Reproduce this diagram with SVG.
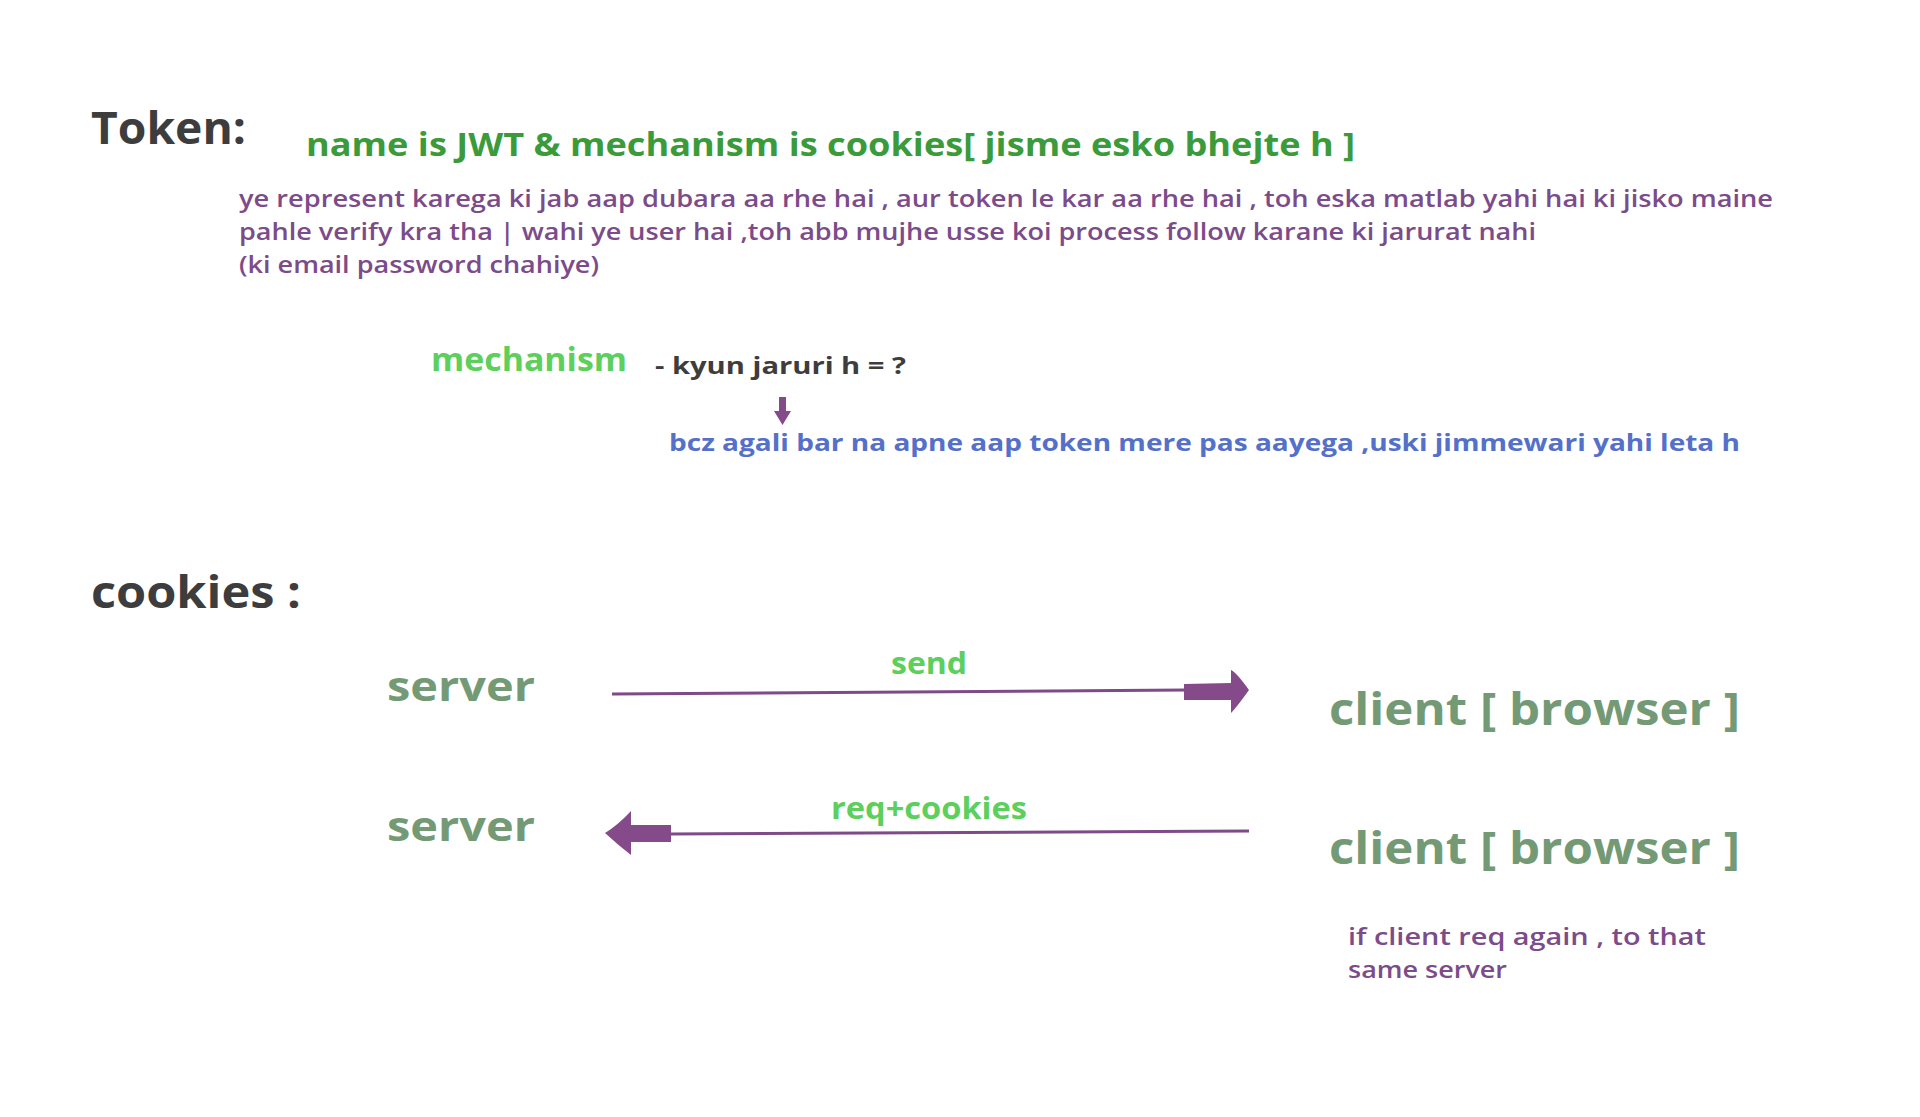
<svg xmlns="http://www.w3.org/2000/svg" width="1920" height="1117" viewBox="0 0 1920 1117">
<style>
text{font-family:"Open Sans","Noto Sans","Liberation Sans",sans-serif;}
.h{font-weight:700;fill:#3d3d3d;}
.p{font-weight:600;fill:#7b4b8a;font-size:24px;}
.g{font-weight:700;fill:#5ccf5c;}
.node{font-weight:700;fill:#739a75;}
.line{stroke:#7e4a88;stroke-width:3;fill:none;}
.head{fill:#854a8a;}
</style>
<rect width="1920" height="1117" fill="#ffffff"/>
<g id="title-token">
<text class="h" x="91" y="144" font-size="44" textLength="155" lengthAdjust="spacingAndGlyphs">Token:</text>
</g>
<g id="heading-jwt">
<text x="306" y="156" font-size="32" font-weight="700" fill="#3b9b3b" textLength="1049" lengthAdjust="spacingAndGlyphs">name is JWT &amp; mechanism is cookies[ jisme esko bhejte h ]</text>
</g>
<g id="paragraph">
<text class="p" x="239" y="207" textLength="1534" lengthAdjust="spacingAndGlyphs">ye represent karega ki jab aap dubara aa rhe hai , aur token le kar aa rhe hai , toh eska matlab yahi hai ki jisko maine</text>
<text class="p" x="239" y="240" textLength="1297" lengthAdjust="spacingAndGlyphs">pahle verify kra tha | wahi ye user hai ,toh abb mujhe usse koi process follow karane ki jarurat nahi</text>
<text class="p" x="239" y="273" textLength="360" lengthAdjust="spacingAndGlyphs">(ki email password chahiye)</text>
</g>
<g id="mechanism">
<text class="g" x="431" y="371" font-size="32" textLength="196" lengthAdjust="spacingAndGlyphs">mechanism</text>
<text class="h" x="655" y="374" font-size="24" textLength="251" lengthAdjust="spacingAndGlyphs">- kyun jaruri h = ?</text>
</g>
<g id="reason">
<text x="669" y="451" font-size="24" font-weight="700" fill="#5470c9" textLength="1071" lengthAdjust="spacingAndGlyphs">bcz agali bar na apne aap token mere pas aayega ,uski jimmewari yahi leta h</text>
</g>
<g id="title-cookies">
<text class="h" x="91" y="608" font-size="44" textLength="210" lengthAdjust="spacingAndGlyphs">cookies :</text>
</g>
<g id="server-1"><text class="node" x="387" y="701" font-size="42" textLength="148" lengthAdjust="spacingAndGlyphs">server</text></g>
<g id="client-1"><text class="node" x="1329" y="725" font-size="44" textLength="411" lengthAdjust="spacingAndGlyphs">client [ browser ]</text></g>
<g id="server-2"><text class="node" x="387" y="841" font-size="42" textLength="148" lengthAdjust="spacingAndGlyphs">server</text></g>
<g id="client-2"><text class="node" x="1329" y="864" font-size="44" textLength="411" lengthAdjust="spacingAndGlyphs">client [ browser ]</text></g>
<g id="note">
<text class="p" x="1348" y="945" font-weight="700" textLength="358" lengthAdjust="spacingAndGlyphs">if client req again , to that</text>
<text class="p" x="1348" y="978" font-weight="700" textLength="159" lengthAdjust="spacingAndGlyphs">same server</text>
</g>
<g id="connectors">
<path class="line" d="M612 694 L1186 690"/>
<path class="head" d="M1184 684 L1231 683 L1231 670 Q1236 672 1249 690 Q1236 708 1231 713 L1231 700 L1184 700 Z"/>
<text class="g" x="891" y="674" font-size="30" textLength="76" lengthAdjust="spacingAndGlyphs">send</text>
<path class="line" d="M1249 831 L669 834"/>
<path class="head" d="M671 825 L631 825 L631 811 Q618 825 605 833 Q618 845 631 855 L631 842 L671 842 Z"/>
<text class="g" x="831" y="819" font-size="30" textLength="196" lengthAdjust="spacingAndGlyphs">req+cookies</text>
<path class="head" d="M779 397 L786 397 L786 411 L791 411 L782.5 425 L774 411 L779 411 Z"/>
</g>
</svg>
